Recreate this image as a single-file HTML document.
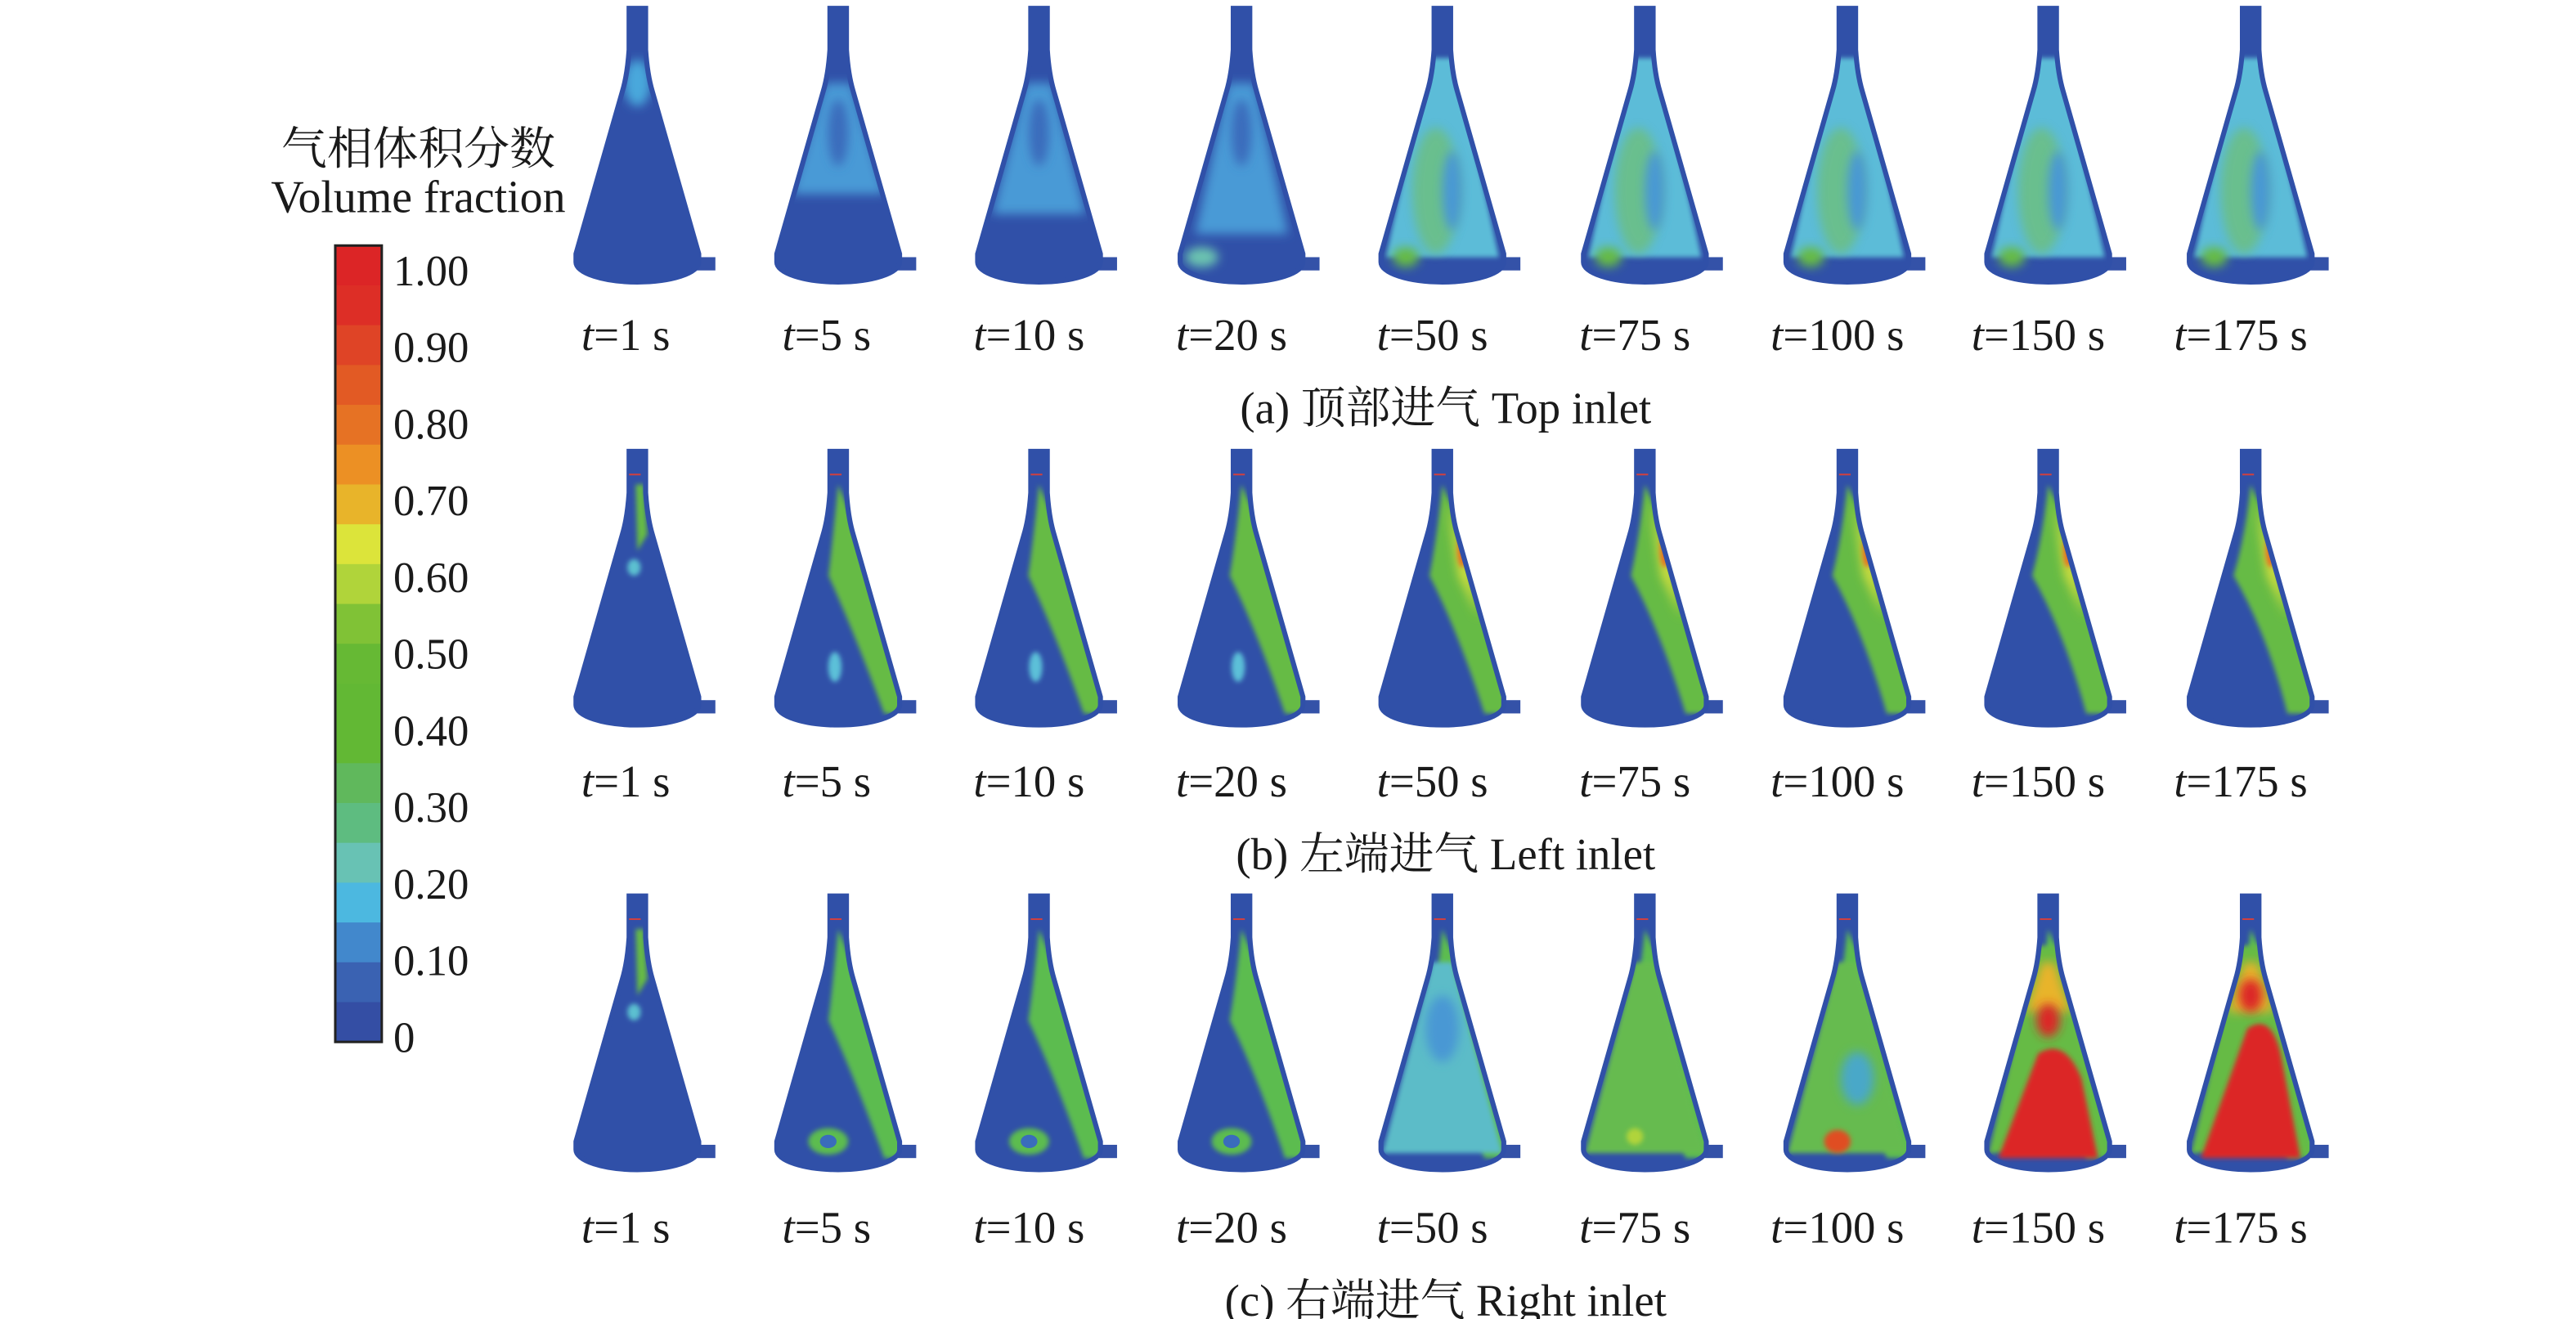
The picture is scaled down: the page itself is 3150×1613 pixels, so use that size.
<!DOCTYPE html>
<html><head><meta charset="utf-8"><style>
html,body{margin:0;padding:0;background:#fff;}
svg{display:block}
text{font-family:"Liberation Serif","Noto Serif CJK SC",serif;fill:#1a1a1a}
</style></head><body>
<svg id="s" width="3150" height="1613" viewBox="0 0 1552 795" preserveAspectRatio="none" xmlns="http://www.w3.org/2000/svg">
<defs>
<filter id="b" x="-50%" y="-50%" width="200%" height="200%"><feGaussianBlur stdDeviation="3"/></filter>
<filter id="b2" x="-50%" y="-50%" width="200%" height="200%"><feGaussianBlur stdDeviation="1.5"/></filter>
</defs>
<text x="252" y="99" font-size="27.5" text-anchor="middle">气相体积分数</text>
<text x="252" y="128" font-size="27.5" text-anchor="middle">Volume fraction</text>
<g id="cb"></g>
<g id="cones"></g>
<text x="871" y="255" font-size="27" text-anchor="middle">(a) 顶部进气 Top inlet</text>
<text x="871" y="524" font-size="27" text-anchor="middle">(b) 左端进气 Left inlet</text>
<text x="871" y="793" font-size="27" text-anchor="middle">(c) 右端进气 Right inlet</text>
</svg>
<script>
var NS="http://www.w3.org/2000/svg";
function el(t,a,p){var e=document.createElementNS(NS,t);for(var k in a)e.setAttribute(k,a[k]);p.appendChild(e);return e;}
var cb=document.getElementById('cb');
var cols=["#dc2526","#dd2e26","#df4426","#e25a24","#e67224","#ec9024","#e8b42a","#dce43a","#b0d43a","#80c236","#66b934","#62b834","#62b834","#60b85c","#5ebc80","#68c2b4","#4cb8e0","#4288cc","#3a62b2","#344ea4"];
for(var i=0;i<20;i++)el('rect',{x:202,y:148+i*24,width:28,height:24.5,fill:cols[i]},cb);
el('rect',{x:202,y:148,width:28,height:480,fill:'none',stroke:'#222','stroke-width':1.5},cb);
var labs=["1.00","0.90","0.80","0.70","0.60","0.50","0.40","0.30","0.20","0.10","0"];
labs.forEach(function(l,i){var t=el('text',{x:237,y:172+i*46.2,'font-size':26},cb);t.textContent=l;});
var g=document.getElementById('cones');
var cx=[384,505,626,748,869,991,1113,1234,1356];
var lx=[377,498,620,742,863,985,1107,1228,1350];
var times=["1","5","10","20","50","75","100","150","175"];
var rows=[{y:5,ly:211},{y:272,ly:480},{y:540,ly:749}];
var cone="M-5,0 L5,0 L5,25 Q6,40 9,50 L37,148 L37,153 A37 12 0 0 1 -37,153 L-37,148 L-9,50 Q-6,40 -5,25 Z";
var id=0;
rows.forEach(function(r,ri){
 for(var c=0;c<9;c++){
  var gg=el('g',{transform:'translate('+cx[c]+','+r.y+')'},g);
  var cid='c'+(id++);
  var cp=el('clipPath',{id:cid},gg);el('path',{d:cone},cp);
  el('rect',{x:36,y:150,width:11,height:8,fill:'#3452a8'},gg);
  el('path',{d:cone,fill:'#3050a8'},gg);
  var inn=el('g',{'clip-path':'url(#'+cid+')'},gg);
  if(ri==0){
    if(c==0){el('ellipse',{cx:0,cy:45,rx:8,ry:14,fill:'#4aa8dc',filter:'url(#b)'},inn);}
    else if(c<4){
      el('path',{d:'M-8,45 L8,45 L28,'+(100+c*12)+' L-28,'+(100+c*12)+' Z',fill:'#4a9ad6',filter:'url(#b)'},inn);
      el('ellipse',{cx:0,cy:75,rx:6,ry:20,fill:'#3a6cbc',filter:'url(#b)'},inn);
      if(c==3)el('ellipse',{cx:-24,cy:150,rx:10,ry:6,fill:'#6cc4b0',filter:'url(#b)'},inn);
    } else {
      el('path',{d:'M-8,30 L8,30 L34,150 L-34,150 Z',fill:'#5cbcd8',filter:'url(#b2)'},inn);
      el('ellipse',{cx:-4,cy:110,rx:14,ry:38,fill:'#70c070',opacity:0.7,filter:'url(#b)'},inn);
      el('ellipse',{cx:-22,cy:150,rx:8,ry:6,fill:'#66bb44',filter:'url(#b)'},inn);
      el('ellipse',{cx:6,cy:110,rx:6,ry:24,fill:'#4a98d4',filter:'url(#b)'},inn);
    }
  } else {
    var w=3+c*1.6;
    if(c==0){
      el('path',{d:'M-1,20 L4,20 L6,50 L0,60 Z',fill:'#66bb44',filter:'url(#b2)'},inn);
      el('ellipse',{cx:-2,cy:70,rx:4,ry:5,fill:'#5cc0d0',filter:'url(#b2)'},inn);
    } else {
      el('path',{d:'M0,20 Q8,40 '+(12+w)+',60 L40,150 L38,158 L'+(30-w*0.5)+',158 Q10,110 '+(-4-w*0.4)+',75 Q-3,50 0,20 Z',fill:ri==1?'#66bb44':'#5cbc50',filter:'url(#b2)'},inn);
      if(ri==1&&c>=4){el('path',{d:'M3,30 L16,70 L22,100 L10,75 Z',fill:'#d8e03c',filter:'url(#b)'},inn);
        el('ellipse',{cx:12,cy:60,rx:3,ry:10,fill:'#e67224',filter:'url(#b2)'},inn);}
      if(ri==1&&c<=3)el('ellipse',{cx:-2,cy:130,rx:4,ry:9,fill:'#5cc0d8',filter:'url(#b2)'},inn);
      if(ri==2){
        if(c<=3){el('ellipse',{cx:-6,cy:148,rx:12,ry:8,fill:'#5cbc50',filter:'url(#b2)'},inn);
          el('ellipse',{cx:-6,cy:148,rx:5,ry:4,fill:'#3a6cbc'},inn);}
        else if(c<=6){
          el('path',{d:'M-6,40 L6,40 L36,155 L-36,155 Z',fill:c==4?'#5cbcc8':'#66bb50',filter:'url(#b2)'},inn);
          if(c==4)el('ellipse',{cx:0,cy:80,rx:10,ry:20,fill:'#4a98d4',filter:'url(#b)'},inn);
          if(c==6){el('ellipse',{cx:-6,cy:148,rx:8,ry:7,fill:'#e04e24',filter:'url(#b2)'},inn);
            el('ellipse',{cx:6,cy:110,rx:10,ry:16,fill:'#4aa8c8',filter:'url(#b)'},inn);}
          if(c==5)el('ellipse',{cx:-6,cy:145,rx:5,ry:5,fill:'#b0d43a',filter:'url(#b2)'},inn);
        } else {
          el('path',{d:'M-6,30 L6,30 L36,155 L-36,155 Z',fill:'#66bb44',filter:'url(#b2)'},inn);
          el('path',{d:'M-4,40 L4,40 L14,70 L-14,70 Z',fill:'#e8b42a',filter:'url(#b)'},inn);
          el('path',{d:(c==7?'M-6,95 Q10,85 20,110 L30,158 L-30,158 Z':'M-2,80 Q12,70 18,95 L30,158 L-30,158 Z'),fill:'#dc2526',filter:'url(#b2)'},inn);
          el('ellipse',{cx:0,cy:c==7?75:60,rx:7,ry:10,fill:'#dc2526',filter:'url(#b)'},inn);
        }
      }
    }
  }
  el('path',{d:cone,fill:'none',stroke:'#3050a8','stroke-width':3},gg);
  if(ri>0)el('line',{x1:-5,y1:14,x2:2,y2:14,stroke:'#d04040','stroke-width':1},gg);
  var t=el('text',{x:lx[c],y:r.ly,'font-size':27,'text-anchor':'middle'},g);
  var ts=el('tspan',{'font-style':'italic'},t);ts.textContent='t';
  var t2=el('tspan',{},t);t2.textContent='='+times[c]+' s';
 }
});
</script>
</body></html>
